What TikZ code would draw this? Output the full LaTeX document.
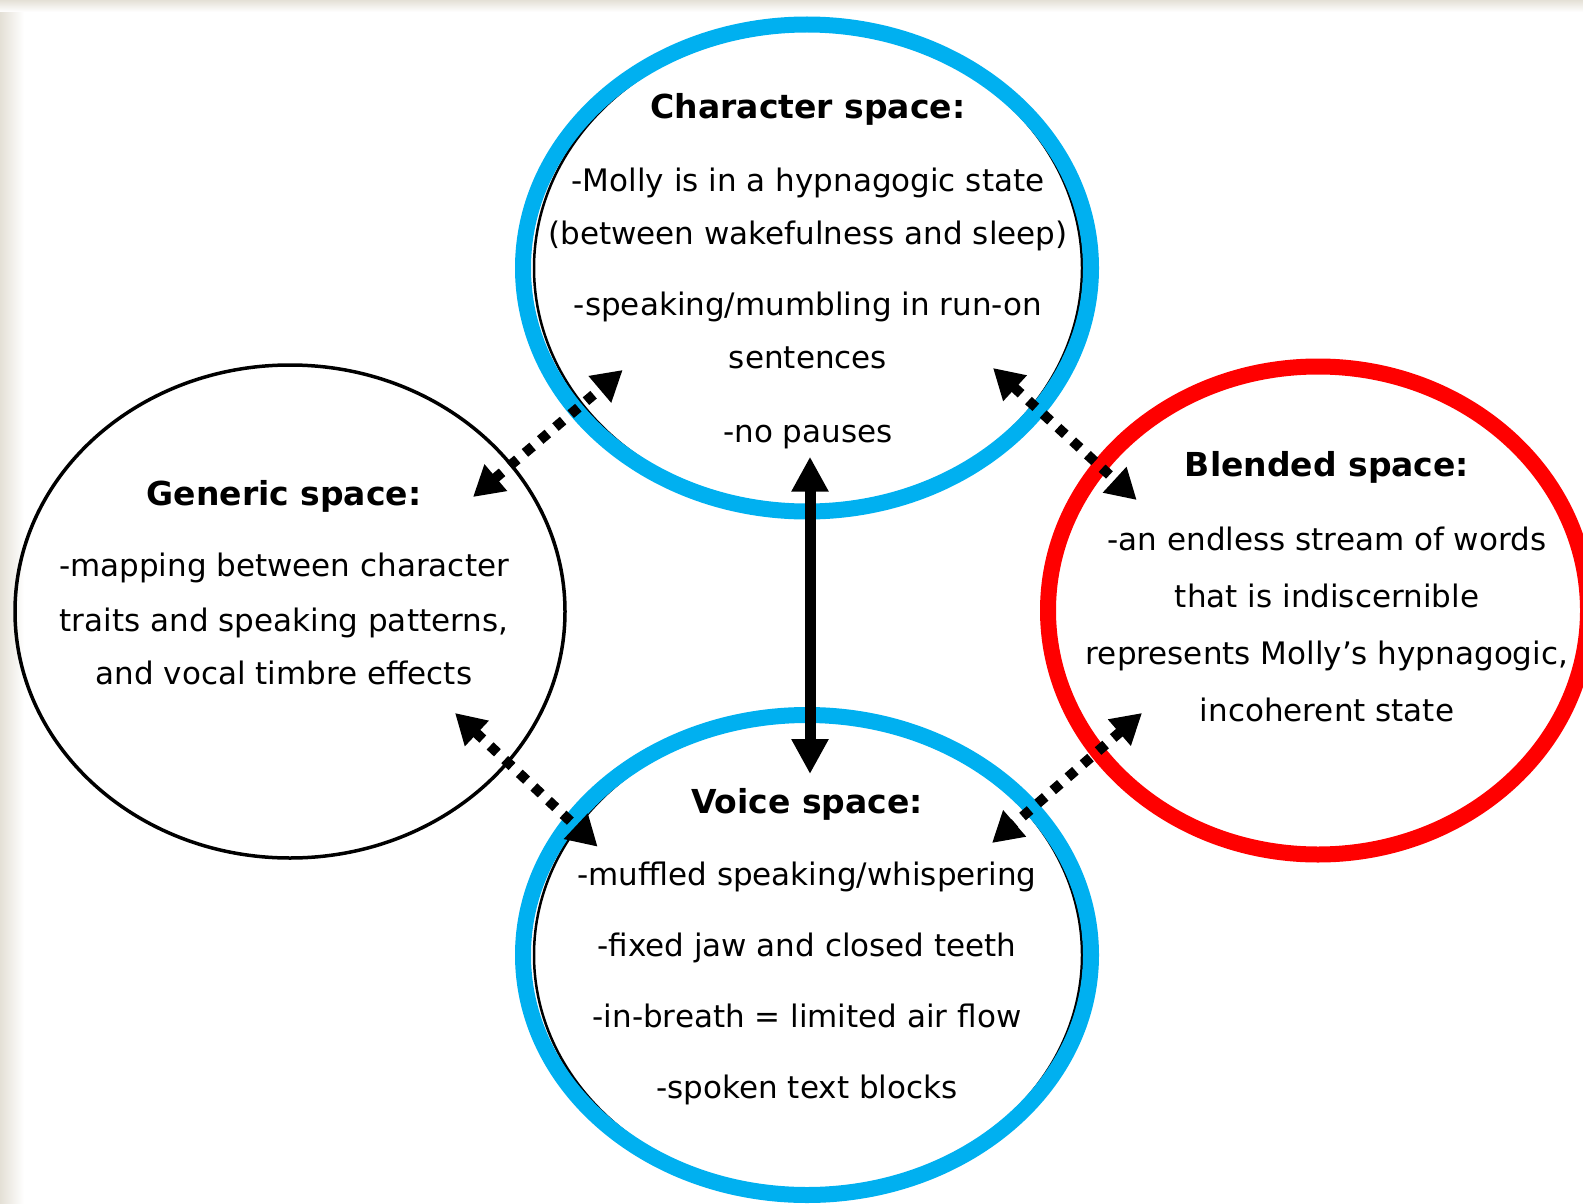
\documentclass[tikz,border=0pt]{standalone}
\usepackage{fontspec}
\setmainfont{DejaVu Sans}
\usetikzlibrary{arrows.meta,shapes.geometric}
\definecolor{skyb}{HTML}{00B0F0}
\definecolor{redc}{HTML}{FF0000}
\definecolor{edgec}{HTML}{E4E0D6}
\newcommand{\ttl}[1]{{\fontsize{33}{53}\selectfont\bfseries #1}}
\begin{document}
\begin{tikzpicture}[x=1pt,y=-1pt,
  sp/.style={ellipse, inner sep=0pt, outer sep=0pt},
  thinring/.style={sp, draw=black, line width=3.5pt},
  innerring/.style={sp, draw=black, line width=2.5pt},
  bluering/.style={sp, draw=skyb, line width=16pt},
  redring/.style={sp, draw=redc, line width=16pt},
  txt/.style={align=center, inner sep=0pt, anchor=north, font=\fontsize{31}{53}\selectfont},
  dotarrow/.style={line width=10pt, dash pattern=on 10pt off 10pt,
    {Triangle[length=30pt,width=33pt]}-{Triangle[length=30pt,width=33pt]}},
  solidarrow/.style={line width=11pt,
    {Triangle[length=35pt,width=35pt]}-{Triangle[length=35pt,width=35pt]}}
]
\useasboundingbox (0,0) rectangle (1583,1204);
\fill[white] (0,0) rectangle (1583,1204);
\shade[left color=edgec, right color=white] (0,0) rectangle (24,1204);
\shade[top color=edgec, bottom color=white] (0,0) rectangle (1583,12);
\begin{scope}
\clip (0,0) rectangle (1583,1204);
% ellipses
\node[thinring, minimum width=550, minimum height=493] (gen) at (290,611.5) {};
\node[innerring, minimum width=548, minimum height=480] (chrin) at (808,268) {};
\node[bluering, minimum width=568, minimum height=487] (chr) at (807,268) {};
\node[innerring, minimum width=548, minimum height=474] (vocin) at (808,955) {};
\node[bluering, minimum width=568, minimum height=480] (voc) at (807,955) {};
\node[redring, minimum width=540, minimum height=488] (bld) at (1318,610.5) {};
\end{scope}
% texts
\node[txt] (chrT) at (808,93) {\ttl{Character space:}\\[20pt]
  -Molly is in a hypnagogic state\\
  (between wakefulness and sleep)\\[18pt]
  -speaking/mumbling in run-on\\
  sentences\\[21pt]
  -no pauses};
\node[txt] (genT) at (284,480) {\ttl{Generic space:}\\[18pt]
  -mapping between character\\[2pt]
  traits and speaking patterns,\\
  and vocal timbre effects};
\node[txt, font=\fontsize{31}{57}\selectfont] (bldT) at (1327,451) {\ttl{Blended space:}\\[17pt]
  -an endless stream of words\\
  that is indiscernible\\
  represents Molly’s hypnagogic,\\
  incoherent state};
\node[txt, font=\fontsize{31}{71}\selectfont] (vocT) at (807,788) {\ttl{Voice space:}\\[1pt]
  -muffled speaking/whispering\\
  -fixed jaw and closed teeth\\
  -in-breath = limited air flow\\
  -spoken text blocks};
% connector end points
\coordinate (gc1) at (473,497);
\coordinate (gc2) at (622.7,370);
\coordinate (cb1) at (993,368);
\coordinate (cb2) at (1136.7,500);
\coordinate (gv1) at (455,713);
\coordinate (gv2) at (597.6,846.7);
\coordinate (bv1) at (1142,713);
\coordinate (bv2) at (992,843);
\coordinate (cv1) at (810,456.7);
\coordinate (cv2) at (810,774);
% connectors
\draw[dotarrow] (gc1) -- (gc2);
\draw[dotarrow] (cb1) -- (cb2);
\draw[dotarrow] (gv1) -- (gv2);
\draw[dotarrow] (bv1) -- (bv2);
\draw[solidarrow] (cv1) -- (cv2);
\end{tikzpicture}
\end{document}
